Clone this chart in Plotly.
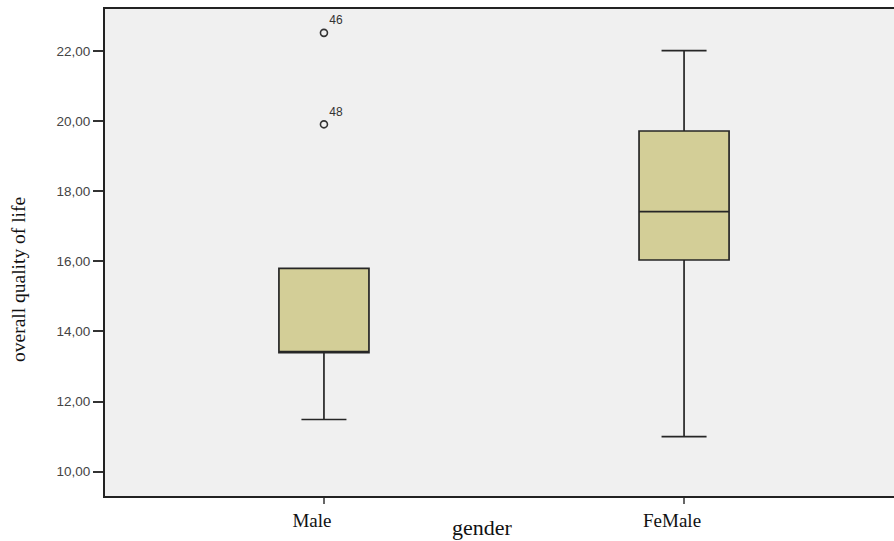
import plotly.graph_objects as go

# Summary statistics of overall quality of life by gender
groups = ["Male", "FeMale"]
q1 = [13.40, 16.04]
median = [13.40, 17.42]
q3 = [15.80, 19.72]
lower_whisker = [11.49, 11.00]
upper_whisker = [15.80, 22.01]

# Outlying cases (case numbers shown beside the points)
outlier_group = ["Male", "Male"]
outlier_value = [22.52, 19.91]
outlier_case = ["46", "48"]

y_ticks = [10, 12, 14, 16, 18, 20, 22]

fig = go.Figure()

fig.add_trace(go.Box(
    x=groups,
    q1=q1,
    median=median,
    q3=q3,
    lowerfence=lower_whisker,
    upperfence=upper_whisker,
    boxpoints=False,
    width=0.25,
    whiskerwidth=0.5,
    fillcolor="#D3CE97",
    line=dict(color="#262626", width=1.7),
    hoverinfo="skip",
    showlegend=False,
))

fig.add_trace(go.Scatter(
    x=outlier_group,
    y=outlier_value,
    mode="markers+text",
    text=outlier_case,
    textposition="top right",
    textfont=dict(family="Liberation Sans, Arial, sans-serif", size=12, color="#333333"),
    marker=dict(symbol="circle-open", size=7, color="#333333", line=dict(width=1.6)),
    showlegend=False,
    cliponaxis=False,
))

fig.update_layout(
    width=894,
    height=541,
    margin=dict(l=105, r=0, t=9, b=45),
    paper_bgcolor="white",
    plot_bgcolor="#F0F0F0",
    separators=",.",
    showlegend=False,
    xaxis=dict(
        type="category",
        range=[-0.608, 1.583],
        showline=True,
        linecolor="#222222",
        linewidth=2,
        mirror=True,
        showgrid=False,
        zeroline=False,
        ticks="outside",
        ticklen=6,
        tickwidth=1.5,
        tickcolor="#666666",
        ticklabelshift=-12,
        tickfont=dict(family="Liberation Serif, Times New Roman, serif", size=19, color="#111111"),
    ),
    yaxis=dict(
        range=[9.307, 23.20],
        tickvals=y_ticks,
        tickformat=".2f",
        showline=True,
        linecolor="#222222",
        linewidth=2,
        showgrid=False,
        zeroline=False,
        ticks="outside",
        ticklen=10,
        tickwidth=1.5,
        tickcolor="#333333",
        tickfont=dict(family="Liberation Sans, Arial, sans-serif", size=13.5, color="#444444"),
    ),
    annotations=[
        dict(
            text="overall quality of life",
            xref="paper", yref="paper",
            x=0, y=0.4435, xshift=-87,
            xanchor="center", yanchor="middle",
            textangle=-90,
            showarrow=False,
            font=dict(family="Liberation Serif, Times New Roman, serif", size=19.5, color="#111111"),
        ),
        dict(
            text="gender",
            xref="paper", yref="paper",
            x=0.478, y=-0.064,
            xanchor="center", yanchor="middle",
            showarrow=False,
            font=dict(family="Liberation Serif, Times New Roman, serif", size=22, color="#111111"),
        ),
    ],
)

fig.write_html("out.html")
